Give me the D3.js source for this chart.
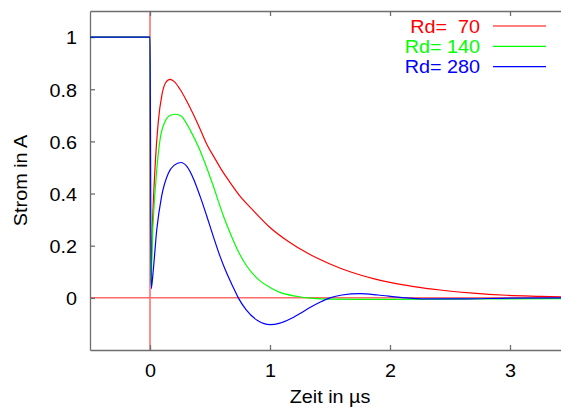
<!DOCTYPE html>
<html>
<head>
<meta charset="utf-8">
<script src="https://cdn.jsdelivr.net/npm/d3@7"></script>
<style>
  html, body { margin: 0; padding: 0; background: #fff; }
  svg { display: block; }
  text { font-family: "Liberation Sans", Arial, Helvetica, sans-serif; }
</style>
</head>
<body>
<div id="chart"></div>
<script>
// Current response for three damping resistors, time in microseconds
const rd70 = [
  [-0.5, 1], [0, 1], [0.005, 0.06], [0.02, 0.28], [0.042, 0.50], [0.069, 0.675],
  [0.1, 0.78], [0.13, 0.825], [0.167, 0.838], [0.2, 0.83], [0.25, 0.80],
  [0.3, 0.76], [0.36, 0.705], [0.42, 0.645], [0.472, 0.59], [0.54, 0.535],
  [0.611, 0.48], [0.667, 0.443], [0.75, 0.39], [0.85, 0.34], [1.0, 0.27],
  [1.15, 0.217], [1.333, 0.166], [1.5, 0.13], [1.667, 0.1], [1.861, 0.074],
  [2.0, 0.059], [2.2, 0.043], [2.417, 0.03], [2.69, 0.018], [2.97, 0.01],
  [3.25, 0.006], [3.5, 0.003]
];
const rd140 = [
  [-0.5, 1], [0, 1], [0.005, 0.05], [0.025, 0.28], [0.056, 0.49], [0.083, 0.605],
  [0.125, 0.675], [0.17, 0.70], [0.214, 0.704], [0.26, 0.697], [0.3, 0.672],
  [0.333, 0.645], [0.417, 0.565], [0.472, 0.50], [0.528, 0.428], [0.611, 0.315],
  [0.667, 0.25], [0.736, 0.178], [0.806, 0.122], [0.9, 0.072], [1.0, 0.04],
  [1.083, 0.021], [1.22, 0.006], [1.36, -0.002], [1.5, -0.005], [1.75, -0.006],
  [2.0, -0.006], [2.5, -0.005], [3.0, -0.004], [3.5, -0.003]
];
const rd280 = [
  [-0.5, 1], [0, 1], [0.01, 0.035], [0.028, 0.11], [0.056, 0.26], [0.097, 0.39],
  [0.153, 0.478], [0.2, 0.508], [0.258, 0.519], [0.31, 0.502], [0.361, 0.458],
  [0.417, 0.39], [0.472, 0.315], [0.528, 0.235], [0.583, 0.16], [0.639, 0.095],
  [0.694, 0.04], [0.736, 0.0], [0.8, -0.045], [0.9, -0.088], [1.0, -0.103],
  [1.083, -0.097], [1.167, -0.081], [1.25, -0.06], [1.333, -0.037], [1.42, -0.016],
  [1.5, 0.0], [1.6, 0.011], [1.75, 0.016], [1.9, 0.011], [2.083, 0.002],
  [2.3, -0.004], [2.6, -0.004], [3.0, -0.001], [3.5, 0]
];
const seriesData = [rd70, rd140, rd280];
const seriesLabels = ["Rd=  70", "Rd= 140", "Rd= 280"];
const seriesColors = ["#ff0000", "#00ff00", "#0000ff"];
const xTicks = [0, 1, 2, 3];
const yTicks = [0, 0.2, 0.4, 0.6, 0.8, 1];
const xTitle = "Zeit in \u00b5s";
const yTitle = "Strom in A";

const W = 561, H = 407;
const mLeft = 90, mTop = 11, mBottom = 350, mRight = 570;

const svg = d3.select("#chart").append("svg")
  .attr("width", W).attr("height", H);

const x = d3.scaleLinear().domain([-0.5, 3.5]).range([mLeft, mRight]);
const y = d3.scaleLinear().domain([-0.2, 1.1]).range([mBottom, mTop]);

const frameColor = "#6e6e6e";
const fontSize = 18;
const stretch = 1.1;   // horizontal widening of the lettering

// zero lines
svg.append("line")
  .attr("x1", x(0)).attr("x2", x(0)).attr("y1", mTop).attr("y2", mBottom)
  .attr("stroke", "#ff6a6a").attr("stroke-width", 1.5);
svg.append("line")
  .attr("x1", mLeft).attr("x2", mRight).attr("y1", y(0)).attr("y2", y(0))
  .attr("stroke", "#ff6a6a").attr("stroke-width", 1.5);

// axes (ticks point inward)
const axBottom = svg.append("g").attr("transform", `translate(0,${mBottom})`)
  .call(d3.axisBottom(x).tickValues(xTicks).tickSizeInner(-5).tickSizeOuter(0)
    .tickFormat(d3.format("d")).tickPadding(14));
const axTop = svg.append("g").attr("transform", `translate(0,${mTop})`)
  .call(d3.axisTop(x).tickValues(xTicks).tickSizeInner(-5).tickSizeOuter(0)
    .tickFormat(""));
const axLeft = svg.append("g").attr("transform", `translate(${mLeft},0)`)
  .call(d3.axisLeft(y).tickValues(yTicks).tickSizeInner(-5).tickSizeOuter(0)
    .tickFormat(d => d === 0 || d === 1 ? d3.format("d")(d) : d3.format(".1f")(d))
    .tickPadding(13));
axLeft.selectAll(".tick text").attr("dy", "0.38em");

[axBottom, axTop, axLeft].forEach(g => {
  g.select(".domain").attr("stroke", frameColor).attr("stroke-width", 1.3);
  g.selectAll(".tick line").attr("stroke", frameColor).attr("stroke-width", 1.3);
  g.selectAll(".tick text").attr("fill", "#000")
    .style("font-size", fontSize + "px")
    .style("font-family", '"Liberation Sans", Arial, sans-serif')
    .each(function () {
      const t = d3.select(this);
      const tx = +t.attr("x") || 0;
      t.attr("x", tx / stretch).attr("transform", `scale(${stretch},1)`);
    });
});

// curves
const line = d3.line()
  .x(d => x(d[0])).y(d => y(d[1]))
  .curve(d3.curveMonotoneX);

svg.append("clipPath").attr("id", "plotclip")
  .append("rect").attr("x", mLeft).attr("y", mTop)
  .attr("width", mRight - mLeft).attr("height", mBottom - mTop);

svg.append("g").attr("clip-path", "url(#plotclip)")
  .selectAll("path").data(seriesData).join("path")
  .attr("d", line)
  .attr("fill", "none")
  .attr("stroke", (d, i) => seriesColors[i])
  .attr("stroke-width", 1.2);

// legend
const legend = svg.append("g");
seriesLabels.forEach((lab, i) => {
  const ly = 26 + i * 20.3;
  legend.append("text")
    .attr("transform", `translate(480,${ly + 6.8}) scale(${stretch},1)`)
    .attr("text-anchor", "end")
    .style("white-space", "pre")
    .attr("xml:space", "preserve")
    .style("font-size", fontSize + "px")
    .attr("fill", seriesColors[i])
    .text(lab);
  legend.append("line")
    .attr("x1", 493).attr("x2", 546)
    .attr("y1", ly).attr("y2", ly)
    .attr("stroke", seriesColors[i]).attr("stroke-width", 1.2);
});

// axis titles
svg.append("text")
  .attr("transform", `translate(${(mLeft + mRight) / 2},403) scale(${stretch},1)`)
  .attr("text-anchor", "middle")
  .style("font-size", fontSize + "px")
  .text(xTitle);
svg.append("text")
  .attr("transform", `translate(27,${(mTop + mBottom) / 2}) rotate(-90) scale(${stretch},1)`)
  .attr("text-anchor", "middle")
  .style("font-size", fontSize + "px")
  .text(yTitle);
</script>
</body>
</html>
